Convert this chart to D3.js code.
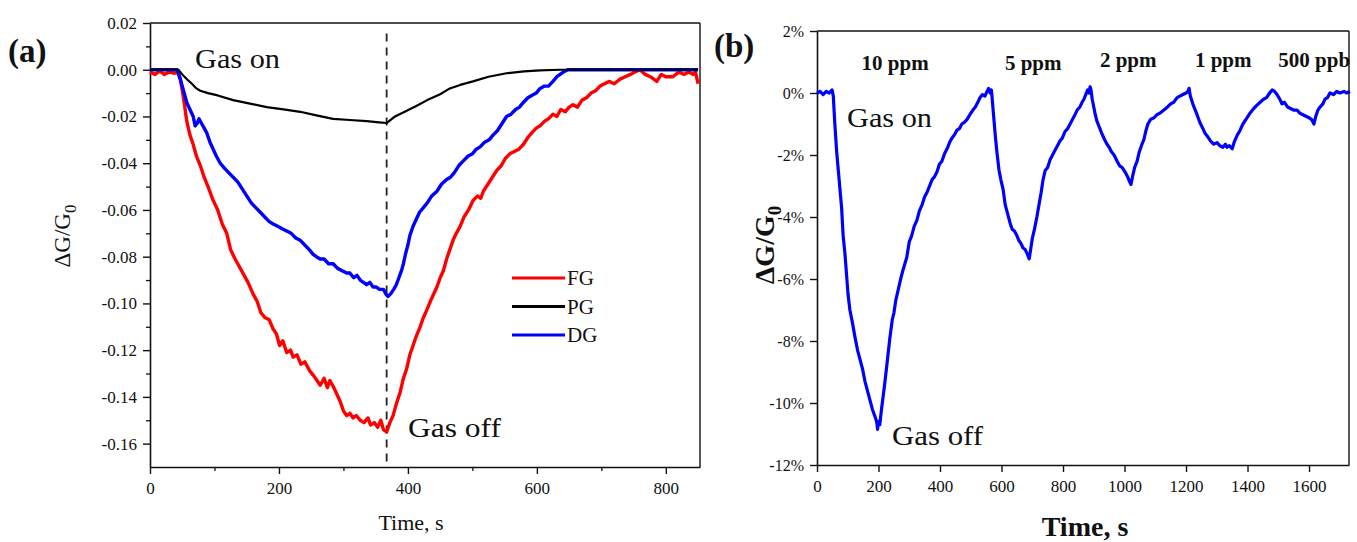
<!DOCTYPE html>
<html lang="en">
<head>
<meta charset="utf-8">
<title>Gas response</title>
<script src="https://d3js.org/d3.v7.min.js"></script>
<style>
  body { margin: 0; background: #fff; }
  text { font-family: "Liberation Serif", "Times New Roman", serif; fill: #111; }
</style>
</head>
<body>
<div id="chart"></div>
<script>
// ---- data ----
// panel (a): time (s), dG/G0
const fgData = [[0,-0.001],[8,-0.002],[15,-0.0005],[22,-0.002],[30,-0.001],[38,-0.0015],[43,-0.001],
  [47,-0.004],[52,-0.012],[57,-0.022],[62,-0.028],[67,-0.032],[72,-0.037],[78,-0.041],[84,-0.046],[90,-0.050],
  [98,-0.056],[105,-0.060],[112,-0.066],[119,-0.070],[125,-0.077],[132,-0.081],[140,-0.085],[146,-0.088],
  [152,-0.091],[160,-0.096],[166,-0.099],[172,-0.104],[178,-0.106],[185,-0.107],[191,-0.111],[196,-0.113],
  [201,-0.118],[206,-0.116],[212,-0.121],[218,-0.120],[222,-0.123],[228,-0.122],[234,-0.126],[240,-0.125],
  [248,-0.129],[254,-0.131],[259,-0.133],[264,-0.135],[270,-0.132],[275,-0.136],[279,-0.133],[285,-0.136],
  [290,-0.139],[295,-0.142],[300,-0.146],[305,-0.148],[310,-0.147],[315,-0.149],[320,-0.148],[326,-0.150],
  [332,-0.151],[338,-0.149],[342,-0.152],[348,-0.151],[353,-0.153],[358,-0.150],[362,-0.154],[367,-0.155],
  [372,-0.151],[377,-0.148],[382,-0.143],[388,-0.138],[393,-0.132],[398,-0.128],[403,-0.122],[408,-0.118],
  [413,-0.114],[419,-0.110],[424,-0.106],[429,-0.103],[435,-0.099],[440,-0.096],[445,-0.093],[450,-0.089],
  [455,-0.086],[460,-0.081],[465,-0.077],[470,-0.073],[475,-0.070],[481,-0.067],[487,-0.063],[494,-0.060],
  [501,-0.056],[508,-0.054],[513,-0.055],[517,-0.052],[524,-0.049],[531,-0.046],[538,-0.043],[545,-0.041],
  [551,-0.038],[558,-0.036],[565,-0.035],[572,-0.034],[579,-0.032],[586,-0.029],[592,-0.027],[599,-0.025],
  [605,-0.024],[612,-0.022],[618,-0.021],[625,-0.019],[631,-0.020],[637,-0.017],[644,-0.018],[650,-0.016],
  [656,-0.015],[663,-0.016],[670,-0.013],[677,-0.012],[684,-0.010],[691,-0.009],[698,-0.007],[705,-0.006],
  [712,-0.005],[720,-0.006],[729,-0.004],[737,-0.003],[745,-0.002],[752,-0.001],[760,0.000],[768,-0.002],
  [776,-0.003],[786,-0.005],[793,-0.002],[800,-0.003],[811,-0.003],[820,-0.001],[828,-0.002],[836,-0.001],
  [842,-0.002],[846,-0.001],[850,-0.006]];

const pgData = [[0,0],[20,0],[44,0],[50,-0.002],[57,-0.004],[65,-0.006],[72,-0.008],[78,-0.009],[90,-0.010],
  [105,-0.011],[129,-0.013],[155,-0.0145],[181,-0.016],[207,-0.017],[233,-0.018],[258,-0.0195],[284,-0.021],
  [310,-0.0215],[336,-0.022],[355,-0.0225],[367,-0.0228],[380,-0.020],[395,-0.018],[413,-0.0155],[430,-0.013],
  [450,-0.0105],[465,-0.008],[481,-0.0065],[501,-0.005],[525,-0.003],[553,-0.0015],[580,-0.0007],[605,-0.0003],
  [636,0],[700,0],[850,0]];

const dgData = [[0,0],[20,0],[42,0],[47,-0.004],[52,-0.009],[57,-0.014],[62,-0.017],[67,-0.020],[70,-0.024],
  [73,-0.023],[76,-0.021],[80,-0.023],[84,-0.025],[88,-0.027],[93,-0.031],[98,-0.034],[103,-0.037],[109,-0.040],
  [115,-0.042],[122,-0.044],[129,-0.046],[136,-0.048],[143,-0.051],[150,-0.054],[157,-0.057],[164,-0.059],
  [171,-0.061],[178,-0.063],[185,-0.065],[191,-0.066],[198,-0.067],[205,-0.068],[212,-0.069],[219,-0.070],
  [226,-0.072],[233,-0.073],[240,-0.075],[247,-0.077],[253,-0.079],[258,-0.080],[264,-0.081],[270,-0.081],
  [277,-0.083],[284,-0.083],[291,-0.085],[298,-0.086],[305,-0.087],[310,-0.087],[316,-0.089],[321,-0.088],
  [326,-0.090],[331,-0.091],[336,-0.092],[341,-0.091],[346,-0.093],[351,-0.093],[356,-0.094],[362,-0.094],
  [366,-0.096],[369,-0.097],[373,-0.096],[378,-0.094],[382,-0.092],[386,-0.089],[390,-0.086],[393,-0.083],
  [397,-0.078],[400,-0.075],[403,-0.071],[408,-0.067],[413,-0.064],[418,-0.061],[424,-0.059],[430,-0.057],
  [437,-0.054],[445,-0.052],[452,-0.049],[460,-0.047],[466,-0.046],[472,-0.044],[479,-0.041],[486,-0.039],
  [493,-0.037],[500,-0.036],[506,-0.034],[512,-0.033],[519,-0.031],[526,-0.030],[532,-0.028],[539,-0.026],
  [546,-0.023],[553,-0.020],[560,-0.019],[567,-0.017],[573,-0.016],[579,-0.014],[586,-0.012],[592,-0.011],
  [599,-0.010],[605,-0.008],[612,-0.007],[618,-0.007],[625,-0.005],[631,-0.003],[636,-0.002],[641,-0.001],
  [648,0],[656,0],[700,0],[750,0],[800,0],[850,0]];

const seriesA = [
  {name: "FG", color: "#ff0000", data: fgData},
  {name: "PG", color: "#000000", data: pgData},
  {name: "DG", color: "#0000ff", data: dgData}
];
const gasOffTimeA = 367;

const xTicksA = [0, 200, 400, 600, 800];
const xMinorA = [100, 300, 500, 700];
const yTicksA = [0.02, 0.00, -0.02, -0.04, -0.06, -0.08, -0.10, -0.12, -0.14, -0.16];
const yMinorA = [0.01, -0.01, -0.03, -0.05, -0.07, -0.09, -0.11, -0.13, -0.15];

// panel (b): time (s), dG/G0 in %
const responseB = [[0,0],[10,0.05],[20,-0.05],[30,0.05],[40,0],[49,0.1],[53,-0.1],[58,-1.0],[64,-1.9],[72,-2.8],
  [80,-3.7],[85,-4.6],[91,-5.2],[101,-6.5],[107,-7.0],[115,-7.4],[124,-7.9],[132,-8.3],[140,-8.6],[148,-8.9],
  [156,-9.3],[164,-9.6],[172,-9.9],[180,-10.2],[189,-10.45],[194,-10.6],[197,-10.85],[200,-10.6],[204,-10.7],
  [211,-10.1],[220,-9.4],[228,-8.7],[237,-7.9],[245,-7.3],[250,-7.1],[256,-6.7],[264,-6.35],[272,-6.0],[280,-5.7],
  [292,-5.3],[300,-4.8],[308,-4.6],[316,-4.3],[325,-4.1],[333,-3.8],[342,-3.6],[350,-3.35],[358,-3.2],[366,-3.0],
  [374,-2.8],[382,-2.7],[390,-2.55],[398,-2.3],[406,-2.2],[415,-1.95],[423,-1.8],[431,-1.6],[439,-1.45],
  [447,-1.35],[455,-1.2],[463,-1.15],[471,-1.0],[479,-0.95],[488,-0.85],[497,-0.7],[507,-0.55],[515,-0.45],
  [523,-0.3],[530,-0.15],[538,-0.05],[546,-0.1],[553,0.05],[558,0.15],[563,0.0],[567,0.1],[569,-0.1],[574,-0.7],
  [580,-1.4],[585,-1.9],[592,-2.5],[598,-2.8],[605,-3.1],[612,-3.6],[620,-3.9],[628,-4.2],[635,-4.4],[642,-4.45],
  [650,-4.6],[656,-4.75],[663,-4.85],[670,-5.0],[677,-5.05],[684,-5.2],[690,-5.35],[694,-5.1],[700,-4.7],
  [707,-4.4],[715,-4.0],[722,-3.6],[729,-3.2],[735,-2.8],[742,-2.5],[750,-2.4],[758,-2.15],[766,-2.0],[774,-1.85],
  [782,-1.7],[790,-1.55],[798,-1.45],[806,-1.25],[815,-1.15],[823,-1.0],[831,-0.85],[839,-0.7],[846,-0.55],
  [855,-0.45],[862,-0.3],[868,-0.2],[874,-0.05],[880,0.1],[885,0.0],[888,0.2],[891,0.1],[895,-0.2],[900,-0.45],
  [905,-0.7],[910,-0.9],[918,-1.1],[926,-1.3],[935,-1.5],[943,-1.65],[950,-1.75],[958,-1.9],[966,-2.0],
  [976,-2.2],[984,-2.35],[992,-2.4],[1002,-2.55],[1010,-2.7],[1016,-2.85],[1021,-2.95],[1026,-2.7],[1033,-2.4],
  [1041,-2.2],[1048,-1.9],[1055,-1.7],[1063,-1.5],[1070,-1.2],[1076,-1.0],[1085,-0.85],[1096,-0.8],[1105,-0.7],
  [1115,-0.65],[1128,-0.55],[1140,-0.45],[1150,-0.35],[1160,-0.3],[1171,-0.15],[1180,-0.1],[1190,-0.05],
  [1200,0.0],[1206,0.05],[1210,0.15],[1214,-0.1],[1222,-0.35],[1230,-0.55],[1236,-0.7],[1245,-0.95],[1255,-1.15],
  [1262,-1.3],[1270,-1.4],[1280,-1.55],[1290,-1.65],[1301,-1.6],[1310,-1.7],[1320,-1.75],[1328,-1.65],
  [1333,-1.75],[1341,-1.7],[1350,-1.8],[1358,-1.55],[1367,-1.35],[1376,-1.2],[1385,-1.0],[1395,-0.85],
  [1408,-0.65],[1420,-0.5],[1430,-0.4],[1441,-0.3],[1452,-0.2],[1462,-0.15],[1472,0.0],[1480,0.1],[1488,0.05],
  [1496,-0.05],[1505,-0.2],[1512,-0.35],[1520,-0.3],[1530,-0.45],[1540,-0.5],[1550,-0.55],[1561,-0.55],
  [1570,-0.65],[1580,-0.7],[1590,-0.75],[1600,-0.8],[1608,-0.85],[1616,-1.0],[1622,-0.75],[1629,-0.55],
  [1636,-0.45],[1645,-0.35],[1652,-0.2],[1660,-0.15],[1668,0.0],[1680,-0.05],[1690,0.05],[1700,0.0],
  [1714,0.05],[1722,0.0],[1733,0.05]];

const concLabels = ["10 ppm", "5 ppm", "2 ppm", "1 ppm", "500 ppb"];
const concTimes = [254, 703, 1012, 1321, 1617];   // centre of each label, in s
const xTicksB = [0, 200, 400, 600, 800, 1000, 1200, 1400, 1600];
const yTicksB = [2, 0, -2, -4, -6, -8, -10, -12];

// ---- svg ----
const W = 1357, H = 542;
const svg = d3.select("#chart").append("svg")
  .attr("width", W).attr("height", H);

function styleAxis(g, size) {
  g.attr("font-family", "Liberation Serif");
  g.select(".domain").attr("stroke", "#111").attr("stroke-width", 1.6);
  g.selectAll(".tick line").attr("stroke", "#111").attr("stroke-width", 1.4);
  g.selectAll(".tick text").style("font-family", "Liberation Serif").style("font-size", size + "px").attr("fill", "#222");
}

// ============ PANEL (a) ============
const xa = d3.scaleLinear().domain([0, 853]).range([150, 700]);
const ya = d3.scaleLinear().domain([-0.17, 0.02]).range([467, 23]);

const ga = svg.append("g");

// frame (top and right)
ga.append("line").attr("x1", xa(0)).attr("x2", xa(853)).attr("y1", ya(0.02)).attr("y2", ya(0.02))
  .attr("stroke", "#111").attr("stroke-width", 1.4);
ga.append("line").attr("x1", xa(853)).attr("x2", xa(853)).attr("y1", ya(0.02)).attr("y2", ya(-0.17))
  .attr("stroke", "#111").attr("stroke-width", 1.4);

// minor ticks
ga.append("g").attr("transform", `translate(0,${ya(-0.17)})`)
  .call(d3.axisBottom(xa).tickValues(xMinorA).tickSize(4).tickFormat("").tickSizeOuter(0))
  .call(g => { g.select(".domain").remove(); g.selectAll("line").attr("stroke", "#111").attr("stroke-width", 1.3); });
ga.append("g").attr("transform", `translate(${xa(0)},0)`)
  .call(d3.axisLeft(ya).tickValues(yMinorA).tickSize(4).tickFormat("").tickSizeOuter(0))
  .call(g => { g.select(".domain").remove(); g.selectAll("line").attr("stroke", "#111").attr("stroke-width", 1.3); });

// major axes
ga.append("g").attr("transform", `translate(0,${ya(-0.17)})`)
  .call(d3.axisBottom(xa).tickValues(xTicksA).tickSize(7).tickPadding(8).tickSizeOuter(0)
    .tickFormat(d3.format("d")))
  .call(g => styleAxis(g, 17));
ga.append("g").attr("transform", `translate(${xa(0)},0)`)
  .call(d3.axisLeft(ya).tickValues(yTicksA).tickSize(7).tickPadding(6).tickSizeOuter(0)
    .tickFormat(d => d.toFixed(2)))
  .call(g => styleAxis(g, 17));

// gas-off marker
ga.append("line")
  .attr("x1", xa(gasOffTimeA)).attr("x2", xa(gasOffTimeA))
  .attr("y1", ya(0.0155)).attr("y2", ya(-0.17))
  .attr("stroke", "#222").attr("stroke-width", 1.8).attr("stroke-dasharray", "8,6");

const lineA = d3.line().x(d => xa(d[0])).y(d => ya(d[1]));

// red and blue first, black on top
[seriesA[0], seriesA[2], seriesA[1]].forEach(s => {
  ga.append("path").datum(s.data)
    .attr("fill", "none")
    .attr("stroke", s.color)
    .attr("stroke-width", s.name === "PG" ? 2.2 : 3.4)
    .attr("stroke-linejoin", "round")
    .attr("d", lineA);
});

// legend
seriesA.forEach((s, i) => {
  const y = 278 + i * 28.5;
  ga.append("line").attr("x1", 512).attr("x2", 565).attr("y1", y).attr("y2", y)
    .attr("stroke", s.color).attr("stroke-width", 3);
  ga.append("text").attr("x", 567).attr("y", y + 7)
    .style("font-size", "21px").text(s.name);
});

ga.append("text").attr("x", 195).attr("y", 68).style("font-size", "27px")
  .attr("textLength", 85).attr("lengthAdjust", "spacingAndGlyphs").text("Gas on");
ga.append("text").attr("x", 408).attr("y", 437).style("font-size", "27px")
  .attr("textLength", 93).attr("lengthAdjust", "spacingAndGlyphs").text("Gas off");

ga.append("text").attr("x", 8).attr("y", 62).style("font-size", "33px").style("font-weight", "bold").text("(a)");

ga.append("text").attr("x", 411).attr("y", 530).attr("text-anchor", "middle")
  .style("font-size", "22px").text("Time, s");

const yla = ga.append("text").attr("transform", "translate(70,236) rotate(-90)")
  .attr("text-anchor", "middle").style("font-size", "23px");
yla.append("tspan").text("\u0394G/G");
yla.append("tspan").attr("dy", 6).style("font-size", "17px").text("0");

// ============ PANEL (b) ============
const xb = d3.scaleLinear().domain([0, 1730]).range([817, 1349]);
const yb = d3.scaleLinear().domain([-12, 2]).range([465, 31]);

const gb = svg.append("g");

gb.append("line").attr("x1", xb(0)).attr("x2", xb(1730)).attr("y1", yb(2)).attr("y2", yb(2))
  .attr("stroke", "#111").attr("stroke-width", 1.4);
gb.append("line").attr("x1", xb(1730)).attr("x2", xb(1730)).attr("y1", yb(2)).attr("y2", yb(-12))
  .attr("stroke", "#111").attr("stroke-width", 1.4);

gb.append("g").attr("transform", `translate(0,${yb(-12)})`)
  .call(d3.axisBottom(xb).tickValues(xTicksB).tickSize(7).tickPadding(8).tickSizeOuter(0)
    .tickFormat(d3.format("d")))
  .call(g => styleAxis(g, 17));
gb.append("g").attr("transform", `translate(${xb(0)},0)`)
  .call(d3.axisLeft(yb).tickValues(yTicksB).tickSize(7).tickPadding(6).tickSizeOuter(0)
    .tickFormat(d => d + "%"))
  .call(g => styleAxis(g, 16));

gb.append("path").datum(responseB)
  .attr("fill", "none")
  .attr("stroke", "#0000ff")
  .attr("stroke-width", 3.2)
  .attr("stroke-linejoin", "round")
  .attr("d", d3.line().x(d => xb(d[0])).y(d => yb(d[1])));

gb.selectAll(".conc").data(concLabels).join("text")
  .attr("class", "conc")
  .attr("x", (d, i) => xb(concTimes[i]))
  .attr("y", (d, i) => i < 2 ? 70 : 67)
  .attr("text-anchor", "middle")
  .style("font-size", "21px").style("font-weight", "bold")
  .text(d => d);

gb.append("text").attr("x", 847).attr("y", 127).style("font-size", "27px")
  .attr("textLength", 85).attr("lengthAdjust", "spacingAndGlyphs").text("Gas on");
gb.append("text").attr("x", 892).attr("y", 445).style("font-size", "27px")
  .attr("textLength", 91).attr("lengthAdjust", "spacingAndGlyphs").text("Gas off");

gb.append("text").attr("x", 714).attr("y", 57).style("font-size", "33px").style("font-weight", "bold").text("(b)");

gb.append("text").attr("x", 1085).attr("y", 536).attr("text-anchor", "middle")
  .style("font-size", "28px").style("font-weight", "bold").text("Time, s");

const ylb = gb.append("text").attr("transform", "translate(774,245) rotate(-90)")
  .attr("text-anchor", "middle").style("font-size", "28px").style("font-weight", "bold");
ylb.append("tspan").text("\u0394G/G");
ylb.append("tspan").attr("dy", 7).style("font-size", "19px").text("0");
</script>
</body>
</html>
